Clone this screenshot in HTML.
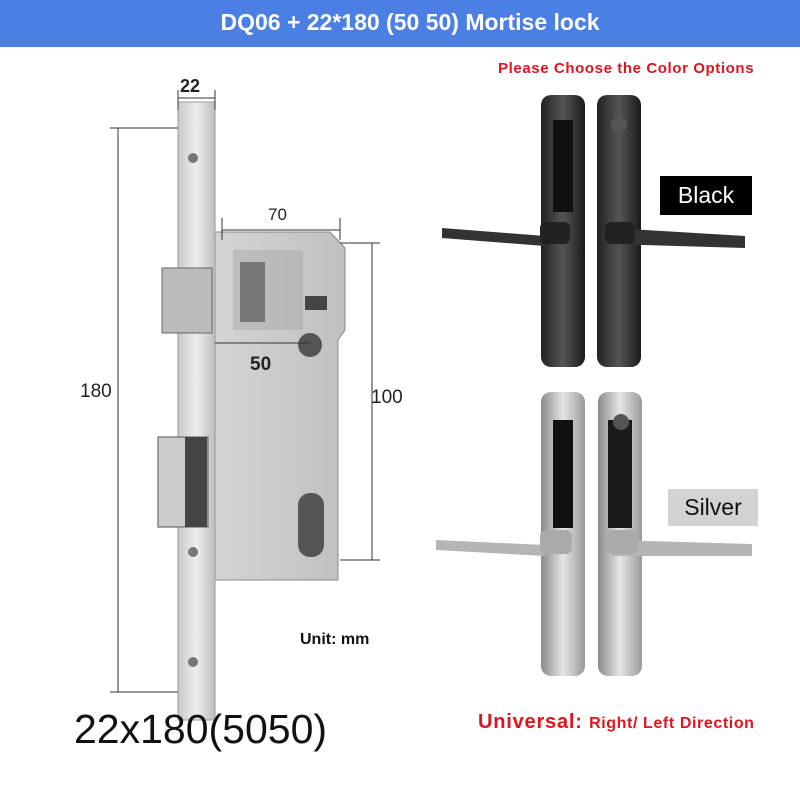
<!DOCTYPE html>
<html><head><meta charset="utf-8"><style>
body{margin:0;width:800px;height:800px;background:#fff;position:relative;overflow:hidden;font-family:"Liberation Sans",sans-serif}
.a{position:absolute}
</style></head><body>
<div class="a" style="left:0;top:0;width:800px;height:47px;background:#4b7fe3"></div>
<div class="a" style="left:0;top:9px;width:820px;text-align:center;color:#fff;font-size:23px;font-weight:bold">DQ06 + 22*180 (50 50) Mortise lock</div>
<div class="a" style="left:498px;top:60px;color:#e0141e;font-size:15px;font-weight:bold;letter-spacing:0.6px">Please Choose the Color Options</div>

<svg class="a" style="left:0;top:0" width="800" height="800">
<defs>
<linearGradient id="s" x1="0" x2="1"><stop offset="0" stop-color="#c9c9c9"/><stop offset=".5" stop-color="#eee"/><stop offset="1" stop-color="#bdbdbd"/></linearGradient>
<linearGradient id="b" x1="0" x2="1"><stop offset="0" stop-color="#d4d4d4"/><stop offset="1" stop-color="#c0c0c0"/></linearGradient>
<linearGradient id="dk" x1="0" x2="1"><stop offset="0" stop-color="#222"/><stop offset=".5" stop-color="#555"/><stop offset="1" stop-color="#1a1a1a"/></linearGradient>
<linearGradient id="sv" x1="0" x2="1"><stop offset="0" stop-color="#8a8a8a"/><stop offset=".5" stop-color="#e6e6e6"/><stop offset="1" stop-color="#999"/></linearGradient>
</defs>
<path d="M215 232 L330 232 L345 248 L345 330 L338 340 L338 580 L215 580 Z" fill="url(#b)" stroke="#888"/>
<rect x="233" y="250" width="70" height="80" fill="#aaa" opacity=".5"/>
<rect x="240" y="262" width="25" height="60" fill="#777"/>
<rect x="305" y="296" width="22" height="14" fill="#444"/>
<circle cx="310" cy="345" r="12" fill="#555"/>
<rect x="298" y="493" width="26" height="64" rx="12" fill="#555"/>
<rect x="178" y="102" width="37" height="618" fill="url(#s)" stroke="#999"/>
<circle cx="193" cy="158" r="5" fill="#777"/><circle cx="193" cy="552" r="5" fill="#777"/><circle cx="193" cy="662" r="5" fill="#777"/>
<rect x="162" y="268" width="50" height="65" fill="#bbb" stroke="#666"/>
<rect x="158" y="437" width="50" height="90" fill="#ccc" stroke="#555"/>
<rect x="185" y="437" width="22" height="90" fill="#444"/>
<g stroke="#333" stroke-width="1" fill="none">
<line x1="118" y1="128" x2="118" y2="692"/><line x1="110" y1="128" x2="178" y2="128"/><line x1="110" y1="692" x2="178" y2="692"/>
<line x1="372" y1="243" x2="372" y2="560"/><line x1="340" y1="243" x2="380" y2="243"/><line x1="340" y1="560" x2="380" y2="560"/>
<line x1="222" y1="230" x2="340" y2="230"/><line x1="222" y1="218" x2="222" y2="240"/><line x1="340" y1="218" x2="340" y2="240"/>
<line x1="178" y1="98" x2="215" y2="98"/><line x1="178" y1="90" x2="178" y2="110"/><line x1="215" y1="90" x2="215" y2="110"/>
<line x1="215" y1="343" x2="310" y2="343"/>
</g>
<rect x="541" y="95" width="44" height="272" rx="10" fill="url(#dk)"/>
<rect x="597" y="95" width="44" height="272" rx="10" fill="url(#dk)"/>
<rect x="553" y="120" width="20" height="92" fill="#111"/>
<circle cx="619" cy="125" r="8" fill="#555"/>
<path d="M442 228 L545 236 L545 246 L442 238 Z" fill="#333"/>
<rect x="540" y="222" width="30" height="22" rx="6" fill="#222"/>
<path d="M612 228 L745 236 L745 248 L612 244 Z" fill="#333"/>
<rect x="605" y="222" width="30" height="22" rx="6" fill="#222"/>
<rect x="541" y="392" width="44" height="284" rx="10" fill="url(#sv)"/>
<rect x="598" y="392" width="44" height="284" rx="10" fill="url(#sv)"/>
<rect x="553" y="420" width="20" height="108" fill="#111"/>
<rect x="608" y="420" width="24" height="108" fill="#1a1a1a"/>
<circle cx="621" cy="422" r="8" fill="#555"/>
<path d="M436 540 L545 545 L545 556 L436 550 Z" fill="#b5b5b5"/>
<rect x="540" y="530" width="32" height="24" rx="6" fill="#aaa"/>
<path d="M612 540 L752 544 L752 556 L612 556 Z" fill="#b5b5b5"/>
<rect x="606" y="530" width="32" height="24" rx="6" fill="#aaa"/>
</svg>

<div class="a" style="left:180px;top:76px;font-size:18px;font-weight:bold;color:#222">22</div>
<div class="a" style="left:268px;top:205px;font-size:17px;color:#222">70</div>
<div class="a" style="left:80px;top:381px;font-size:19px;color:#222">180</div>
<div class="a" style="left:371px;top:387px;font-size:19px;color:#222">100</div>
<div class="a" style="left:250px;top:354px;font-size:19px;font-weight:bold;color:#222">50</div>
<div class="a" style="left:300px;top:631px;font-size:16px;font-weight:bold;color:#111">Unit: mm</div>
<div class="a" style="left:74px;top:706px;font-size:41px;color:#111">22x180(5050)</div>
<div class="a" style="left:660px;top:176px;width:92px;height:39px;background:#000;color:#fff;font-size:23px;text-align:center;line-height:39px">Black</div>
<div class="a" style="left:668px;top:489px;width:90px;height:37px;background:#d3d3d3;color:#111;font-size:23px;text-align:center;line-height:37px">Silver</div>
<div class="a" style="left:478px;top:711px;color:#e0141e;font-weight:bold;font-size:20px;letter-spacing:0.8px;white-space:nowrap">Universal: <span style="font-size:16px;letter-spacing:0.6px">Right/ Left Direction</span></div>
</body></html>
